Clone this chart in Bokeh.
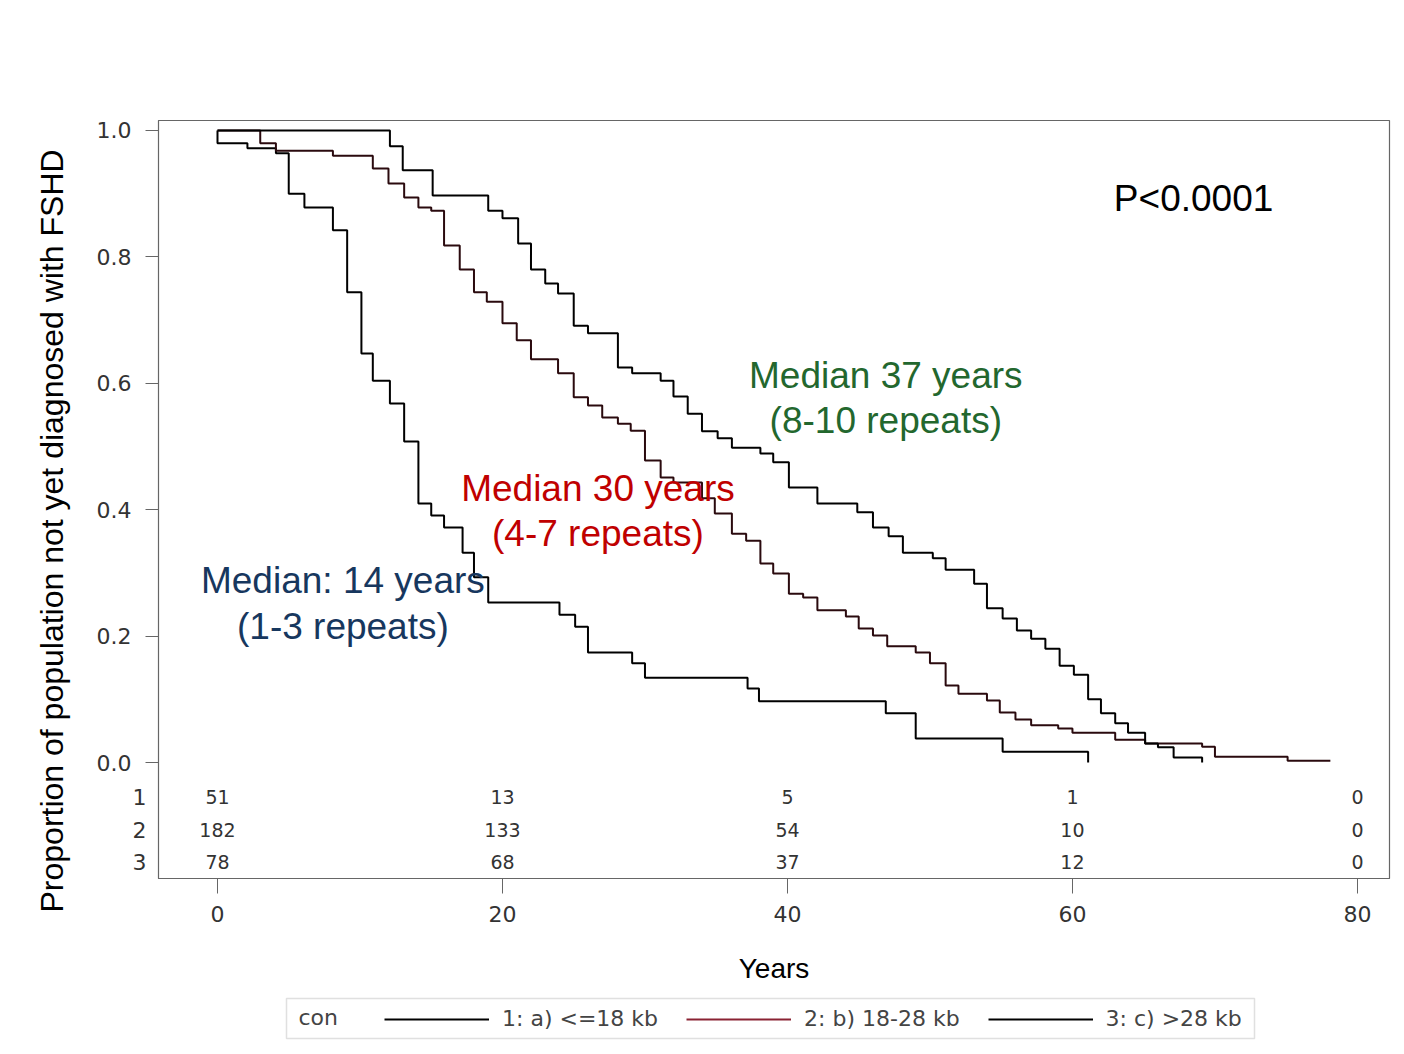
from bokeh.plotting import figure
from bokeh.layouts import column
from bokeh.models import (Range1d, FixedTicker, Label, Legend, LegendItem, Title,
                          LinearAxis, BoxAnnotation)
from bokeh.embed import file_html
from bokeh.resources import INLINE
from bokeh.core.properties import value

# ---------------- data ----------------
# group 1: a) <=18 kb  (times in years, survival proportion)
g1_t = [0.0, 0.0, 2.1, 4.1, 5.0, 6.1, 8.1, 9.1, 10.1, 10.9, 12.1, 13.1, 14.1, 15.0,
        15.9, 17.2, 18.0, 19.0, 24.0, 25.1, 26.0, 29.1, 30.0, 37.2, 38.0, 46.9, 49.0,
        55.1, 61.1]
g1_s = [1.0, 0.980, 0.972, 0.964, 0.900, 0.878, 0.842, 0.744, 0.647, 0.604, 0.568,
        0.508, 0.410, 0.391, 0.372, 0.332, 0.293, 0.253, 0.234, 0.215, 0.174, 0.157,
        0.134, 0.117, 0.097, 0.078, 0.038, 0.017, 0.0]
g1_end = 61.1

# group 2: b) 18-28 kb
g2_t = [0.0, 3.0, 4.1, 8.1, 10.9, 12.0, 13.1, 14.1, 15.0, 15.9, 17.0, 18.0, 18.9, 20.0,
        21.0, 22.0, 23.9, 25.0, 26.0, 27.0, 28.1, 29.0, 30.0, 31.1, 32.0, 34.0, 34.9,
        36.1, 37.1, 38.1, 39.0, 40.1, 41.1, 42.1, 44.1, 45.0, 46.0, 47.0, 49.0, 50.0,
        51.1, 52.0, 54.0, 54.9, 56.0, 57.1, 59.0, 60.0, 63.0, 65.1, 69.1, 70.0, 75.1]
g2_s = [1.0, 0.980, 0.968, 0.960, 0.940, 0.916, 0.894, 0.878, 0.873, 0.818, 0.780,
        0.744, 0.729, 0.695, 0.668, 0.638, 0.616, 0.578, 0.565, 0.546, 0.536, 0.525,
        0.478, 0.451, 0.443, 0.418, 0.394, 0.362, 0.351, 0.315, 0.299, 0.267, 0.261,
        0.241, 0.231, 0.212, 0.201, 0.184, 0.174, 0.157, 0.122, 0.109, 0.098, 0.079,
        0.068, 0.059, 0.054, 0.047, 0.036, 0.030, 0.025, 0.009, 0.003]
g2_end = 78.1

# group 3: c) >28 kb
g3_t = [0.0, 12.1, 13.0, 15.1, 19.0, 20.0, 21.1, 22.0, 23.0, 23.9, 25.0, 26.0, 28.1,
        29.1, 31.1, 32.0, 33.0, 34.0, 35.1, 36.1, 38.1, 39.0, 40.1, 42.1, 44.9, 46.0,
        47.1, 48.1, 50.2, 51.1, 53.1, 54.0, 55.1, 56.1, 57.1, 58.1, 59.1, 60.1, 61.1,
        62.0, 63.0, 63.9, 65.1, 66.0, 67.1, 69.1]
g3_s = [1.0, 0.975, 0.937, 0.897, 0.873, 0.861, 0.821, 0.780, 0.758, 0.742, 0.691,
        0.679, 0.625, 0.616, 0.604, 0.579, 0.552, 0.524, 0.513, 0.498, 0.489, 0.475,
        0.435, 0.410, 0.396, 0.372, 0.358, 0.332, 0.323, 0.305, 0.283, 0.244, 0.228,
        0.209, 0.196, 0.180, 0.153, 0.139, 0.100, 0.078, 0.062, 0.047, 0.030, 0.024,
        0.008, 0.0]
g3_end = 69.1

# numbers at risk
risk_times = [0, 20, 40, 60, 80]
risk_1 = [51, 13, 5, 1, 0]
risk_2 = [182, 133, 54, 10, 0]
risk_3 = [78, 68, 37, 12, 0]
risk_rows = ["1", "2", "3"]

legend_title = "con"
legend_labels = ["1: a) <=18 kb", "2: b) 18-28 kb", "3: c) >28 kb"]
x_ticks = [0, 20, 40, 60, 80]
y_ticks = [0.0, 0.2, 0.4, 0.6, 0.8, 1.0]

FONT = "Liberation Sans"
SAS = "DejaVu Sans"

# ---------------- main figure ----------------
p = figure(output_backend="svg", toolbar_location=None,
           frame_width=1231, frame_height=758,
           x_range=Range1d(-4.14, 82.25), y_range=Range1d(-0.1835, 1.0158),
           min_border_left=158, min_border_right=15, min_border_top=120,
           min_border_bottom=112)
p.background_fill_color = "white"
p.border_fill_color = "white"
p.grid.visible = False
p.outline_line_color = "#666666"
p.outline_line_width = 1.2

p.xaxis.ticker = FixedTicker(ticks=x_ticks)
p.yaxis.ticker = FixedTicker(ticks=y_ticks)
p.yaxis.major_label_overrides = {t: f"{t:.1f}" for t in y_ticks}
for ax in (p.xaxis[0], p.yaxis[0]):
    ax.axis_line_color = "#666666"
    ax.major_tick_line_color = "#666666"
    ax.major_tick_in = 0
    ax.minor_tick_line_color = None
    ax.major_label_text_font = SAS
    ax.major_label_text_color = "#333333"
    ax.major_label_text_font_size = "22px"
    ax.axis_label_text_font = FONT
    ax.axis_label_text_font_style = "normal"
    ax.axis_label_text_color = "black"
    ax.axis_label_text_font_size = "28px"
p.xaxis.major_tick_out = 15
p.xaxis.major_label_standoff = 12
p.xaxis.axis_label = "Years"
p.xaxis.axis_label_standoff = 28
p.yaxis.major_tick_out = 13
p.yaxis.major_label_standoff = 14

# row labels of the numbers-at-risk table (outer axis, shifted in next to the frame)
row_y = [-0.054, -0.106, -0.158]
rows_axis = LinearAxis(ticker=FixedTicker(ticks=row_y),
                       major_label_overrides={y: lab for y, lab in zip(row_y, risk_rows)},
                       major_tick_out=0, major_tick_in=0, axis_line_color=None,
                       minor_tick_line_color=None, major_label_standoff=-53,
                       major_label_text_font=SAS, major_label_text_font_size="22px",
                       major_label_text_color="#333333")
p.add_layout(rows_axis, "left")

ytitle = Title(text="Proportion of population not yet diagnosed with FSHD", align="left",
               text_font=FONT, text_font_style="normal", text_font_size="32px",
               text_color="black", offset=-34, standoff=48)
p.add_layout(ytitle, "left")

# curves
p.step(x=g1_t + [g1_end], y=g1_s + [g1_s[-1]], mode="after", line_color="black", line_width=2)
p.step(x=g2_t + [g2_end], y=g2_s + [g2_s[-1]], mode="after", line_color="#2a0a0e", line_width=2)
p.step(x=g3_t + [g3_end], y=g3_s + [g3_s[-1]], mode="after", line_color="black", line_width=2)

# numbers at risk
for vals, yy in zip([risk_1, risk_2, risk_3], row_y):
    p.text(x=risk_times, y=[yy] * len(risk_times), text=[str(v) for v in vals],
           text_align="center", text_baseline="middle", text_font=value(SAS),
           text_font_size="19px", text_color="#333333")

# annotations
def note(x, y, txt, color):
    p.add_layout(Label(x=x, y=y, text=txt, text_align="center", text_baseline="middle",
                       text_font=FONT, text_font_size="37px", text_color=color))

note(68.5, 0.892, "P<0.0001", "black")
note(46.9, 0.612, "Median 37 years", "#23672e")
note(46.9, 0.541, "(8-10 repeats)", "#23672e")
note(26.7, 0.434, "Median 30 years", "#c00000")
note(26.7, 0.362, "(4-7 repeats)", "#c00000")
note(8.8, 0.288, "Median: 14 years", "#17375e")
note(8.8, 0.215, "(1-3 repeats)", "#17375e")

# ---------------- legend strip (panel below the plot, frame aligned with the plot) ----------------
q = figure(output_backend="svg", toolbar_location=None, width=1404, height=64,
           min_border=0, x_axis_type=None, y_axis_type=None,
           x_range=Range1d(0, 1404), y_range=Range1d(0, 64))
q.outline_line_color = None
q.grid.visible = False
q.background_fill_color = "white"
q.border_fill_color = "white"
q.add_layout(BoxAnnotation(left=128, right=1096, bottom=16, top=56,
                           left_units="screen", right_units="screen",
                           bottom_units="screen", top_units="screen",
                           fill_color="white", line_color="#999999", line_width=1.5))
# legend proxies, kept outside the visible strip
d1 = q.line(x=[-20, -10], y=[-20, -20], line_color="black", line_width=2)
d2 = q.line(x=[-20, -10], y=[-20, -20], line_color="#8a2233", line_width=2)
d3 = q.line(x=[-20, -10], y=[-20, -20], line_color="black", line_width=2)
legend = Legend(items=[LegendItem(label=legend_labels[0], renderers=[d1]),
                       LegendItem(label=legend_labels[1], renderers=[d2]),
                       LegendItem(label=legend_labels[2], renderers=[d3])],
                orientation="horizontal", location=(226, 23))
legend.label_text_font = SAS
legend.label_text_font_size = "22px"
legend.label_text_color = "#444444"
legend.glyph_width = 105
legend.glyph_height = 20
legend.label_standoff = 13
legend.spacing = 28
legend.padding = 10
legend.margin = 0
legend.border_line_color = None
legend.background_fill_alpha = 0
q.add_layout(legend)
q.add_layout(Label(x=140, y=37, x_units="screen", y_units="screen", text=legend_title,
                   text_align="left", text_baseline="middle",
                   text_font=SAS, text_font_size="22px", text_color="#444444"))

layout = column(p, q, spacing=0)
open("out.html", "w").write(file_html(layout, INLINE))
